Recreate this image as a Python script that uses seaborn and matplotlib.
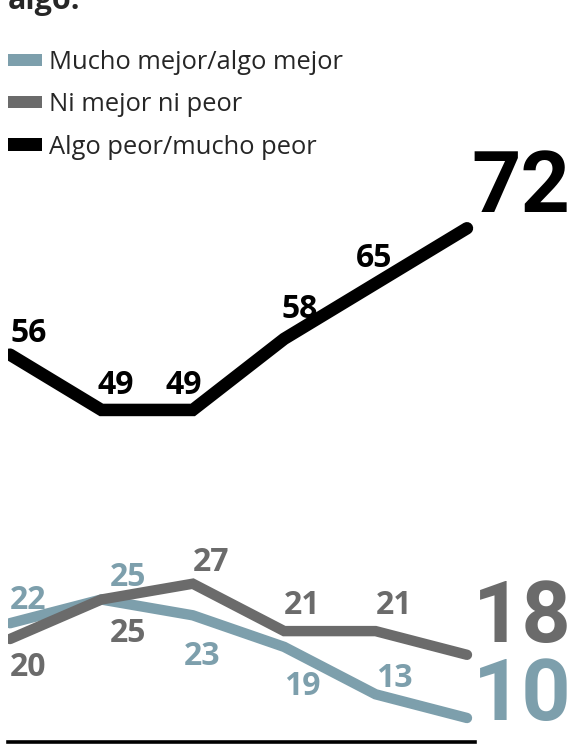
import matplotlib.pyplot as plt
import pandas as pd
import seaborn as sns
from matplotlib.patches import Patch

# Encuesta: situación económica comparada con el año anterior (%)
rondas = [0, 1, 2, 3, 4, 5]
mejor = [22, 25, 23, 19, 13, 10]
igual = [20, 25, 27, 21, 21, 18]
peor = [56, 49, 49, 58, 65, 72]

series_names = ["Mucho mejor/algo mejor", "Ni mejor ni peor", "Algo peor/mucho peor"]
colors = {"Mucho mejor/algo mejor": "#7d9fac", "Ni mejor ni peor": "#6b6b6b", "Algo peor/mucho peor": "#000000"}

df = pd.DataFrame({
    "ronda": rondas * 3,
    "valor": mejor + igual + peor,
    "serie": [series_names[0]] * 6 + [series_names[1]] * 6 + [series_names[2]] * 6,
})

sns.set_style("white")
plt.rcParams["font.family"] = ["Open Sans", "DejaVu Sans"]

fig = plt.figure(figsize=(5.69, 7.5), dpi=100)
ax = fig.add_axes([8 / 569, 8 / 750, 467 / 569, 742 / 750])

widths = {series_names[0]: 7.5, series_names[1]: 7.5, series_names[2]: 9}
for name in series_names:
    sns.lineplot(data=df[df["serie"] == name], x="ronda", y="valor", color=colors[name],
                 linewidth=widths[name], ax=ax, legend=False, sort=False,
                 solid_capstyle="round", solid_joinstyle="miter")

ax.set_xlim(-0.022, 5.088)
ax.set_ylim(6.96, 100.9)
ax.set_xlabel("")
ax.set_ylabel("")
ax.set_xticks([])
ax.set_yticks([])
for side in ["top", "left", "right"]:
    ax.spines[side].set_visible(False)
ax.spines["bottom"].set_color("black")
ax.spines["bottom"].set_linewidth(2.6)

# label offsets in pixels (dx, dy) for each point
off_peor = [(0, 21), (-4, 24), (-27, 24), (-3, 29), (-20, 25)]
off_igual = [(0, -28), (8, -34), (0, 21), (0, 26), (0, 26)]
off_mejor = [(0, 23), (8, 22), (-9, -41), (0, -40), (0, 16)]

for vals, offs, name in [(peor, off_peor, series_names[2]), (igual, off_igual, series_names[1]),
                         (mejor, off_mejor, series_names[0])]:
    for x, v, (dx, dy) in zip(rondas[:-1], vals[:-1], offs):
        ax.annotate(str(v), (x, v), xytext=(dx, dy), textcoords="offset pixels",
                    ha="left", va="center", fontsize=23, fontweight="bold",
                    color=colors[name], annotation_clip=False)

# final values, big and tight
end_offs = {series_names[2]: (4, 16), series_names[1]: (6, 13), series_names[0]: (6, -2)}
for vals, name in [(peor, series_names[2]), (igual, series_names[1]), (mejor, series_names[0])]:
    dx, dy = end_offs[name]
    ax.annotate(f"{vals[-1]}%", (rondas[-1], vals[-1]), xytext=(dx, dy), textcoords="offset pixels",
                ha="left", va="baseline", fontsize=62, fontweight="bold",
                family=["Roboto", "DejaVu Sans"], color=colors[name],
                annotation_clip=False)

fig.text(0.014, 1 - 9 / 750, "algo:", ha="left", va="baseline", fontsize=22, fontweight="bold")

handles = [Patch(facecolor=colors[n], edgecolor="none") for n in series_names]
ax.legend(handles, series_names, loc="upper left", bbox_to_anchor=(8 / 569, 1 - 50 / 750),
          bbox_transform=fig.transFigure, frameon=False, fontsize=18.4,
          handlelength=1.33, handleheight=0.36, handletextpad=0.28, labelspacing=0.68,
          borderpad=0, borderaxespad=0)

fig.savefig("out.png", dpi=100)
